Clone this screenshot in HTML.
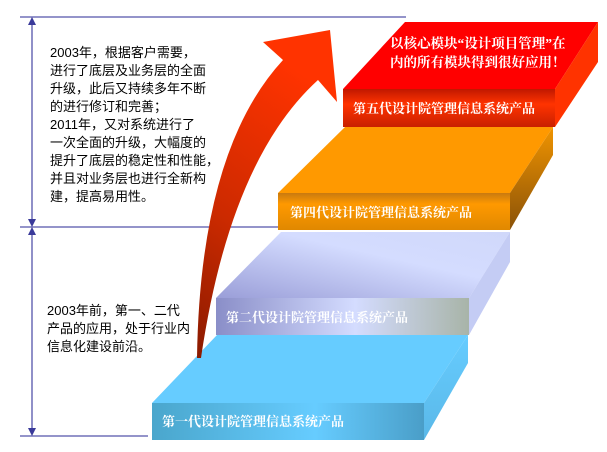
<!DOCTYPE html>
<html><head><meta charset="utf-8"><style>
html,body{margin:0;padding:0;background:#fff;}
svg{display:block;}
.t{font-family:"Liberation Sans","Noto Sans CJK SC",sans-serif;font-size:13px;fill:#000;}
.w{font-family:"Liberation Serif","Noto Serif CJK SC",serif;font-size:13px;font-weight:bold;fill:#fff;}
</style></head><body>
<svg width="607" height="452" viewBox="0 0 607 452" xmlns="http://www.w3.org/2000/svg">
<defs>
<linearGradient id="f1" x1="0" y1="0" x2="1" y2="0"><stop offset="0" stop-color="#4aa6cc"/><stop offset="0.6" stop-color="#66ccff"/><stop offset="1" stop-color="#4a9ec8"/></linearGradient>
<linearGradient id="s1" x1="0" y1="0" x2="0" y2="1"><stop offset="0" stop-color="#66ccff"/><stop offset="1" stop-color="#5ab8e8"/></linearGradient>
<linearGradient id="tp2" x1="0" y1="1" x2="1" y2="0"><stop offset="0" stop-color="#9a9ed8"/><stop offset="0.6" stop-color="#d4dcff"/><stop offset="1" stop-color="#d0d8fa"/></linearGradient>
<linearGradient id="f2" x1="0" y1="0" x2="1" y2="0"><stop offset="0" stop-color="#8a8ec8"/><stop offset="0.55" stop-color="#d4dcff"/><stop offset="1" stop-color="#a8b4a8"/></linearGradient>
<linearGradient id="f4" x1="0" y1="0" x2="0" y2="1"><stop offset="0" stop-color="#c87a10"/><stop offset="0.3" stop-color="#ff9900"/><stop offset="1" stop-color="#e08800"/></linearGradient>
<linearGradient id="s4" x1="0" y1="0" x2="0" y2="1"><stop offset="0" stop-color="#f09400"/><stop offset="1" stop-color="#8a5208"/></linearGradient>
<linearGradient id="f5" x1="0" y1="0" x2="0" y2="1"><stop offset="0" stop-color="#c01800"/><stop offset="0.4" stop-color="#ff3300"/><stop offset="1" stop-color="#c82000"/></linearGradient>
<linearGradient id="ar" x1="0" y1="1" x2="0.3" y2="0"><stop offset="0" stop-color="#8a1a00"/><stop offset="0.45" stop-color="#cc2a00"/><stop offset="1" stop-color="#ff3300"/></linearGradient>
</defs>
<!-- dimension lines -->
<g stroke="#5555aa" stroke-width="1.3" fill="none">
<line x1="20" y1="17" x2="406" y2="17"/>
<line x1="20" y1="227" x2="280" y2="227"/>
<line x1="20" y1="436" x2="148" y2="436"/>
<line x1="32" y1="20" x2="32" y2="224"/>
<line x1="32" y1="230" x2="32" y2="433"/>
</g>
<g fill="#3a3a9a">
<polygon points="32,17 28,25 36,25"/><polygon points="32,227 28,219 36,219"/>
<polygon points="32,227 28,235 36,235"/><polygon points="32,436 28,428 36,428"/>
</g>
<!-- Gen1 -->
<polygon points="152,403 217,335 468,335 424,403" fill="#66ccff"/>
<polygon points="424,403 468,335 468,363 424,440" fill="url(#s1)"/>
<rect x="152" y="403" width="272" height="37" fill="url(#f1)"/>
<!-- Gen2 -->
<polygon points="216,298 281,232 510,232 469,298" fill="url(#tp2)"/>
<polygon points="469,298 510,232 510,262 469,335" fill="#c4ccf4"/>
<rect x="216" y="298" width="253" height="37" fill="url(#f2)"/>
<!-- Gen4 -->
<polygon points="278,193 345,127 553,127 510,193" fill="#ff9900"/>
<polygon points="510,193 553,127 553,155 510,230" fill="url(#s4)"/>
<rect x="278" y="193" width="232" height="37" fill="url(#f4)"/>
<!-- Gen5 -->
<polygon points="343,89 405,22 598,22 555,89" fill="#ff0000"/>
<polygon points="555,89 598,22 598,62 555,127" fill="#ff3300"/>
<rect x="343" y="89" width="212" height="38" fill="url(#f5)"/>
<!-- arrow -->
<path d="M197,358 Q200,150 283,60 L263,42 L330,30 L337,102 L318,80 Q230,160 201,358 Z" fill="url(#ar)"/>
<!-- labels -->
<text class="w" x="162" y="426">第一代设计院管理信息系统产品</text>
<text class="w" x="226" y="322">第二代设计院管理信息系统产品</text>
<text class="w" x="290" y="217">第四代设计院管理信息系统产品</text>
<text class="w" x="353" y="113">第五代设计院管理信息系统产品</text>
<text class="w" x="390" y="48" style="font-size:13.5px">以核心模块“设计项目管理”在</text>
<text class="w" x="390" y="67" style="font-size:13.5px">内的所有模块得到很好应用！</text>
<g class="t">
<text x="50" y="57">2003年，根据客户需要，</text>
<text x="50" y="75">进行了底层及业务层的全面</text>
<text x="50" y="93">升级，此后又持续多年不断</text>
<text x="50" y="111">的进行修订和完善；</text>
<text x="50" y="129">2011年，又对系统进行了</text>
<text x="50" y="147">一次全面的升级，大幅度的</text>
<text x="50" y="165">提升了底层的稳定性和性能，</text>
<text x="50" y="183">并且对业务层也进行全新构</text>
<text x="50" y="201">建，提高易用性。</text>
<text x="47" y="315">2003年前，第一、二代</text>
<text x="47" y="333">产品的应用，处于行业内</text>
<text x="47" y="351">信息化建设前沿。</text>
</g>
</svg>
</body></html>
